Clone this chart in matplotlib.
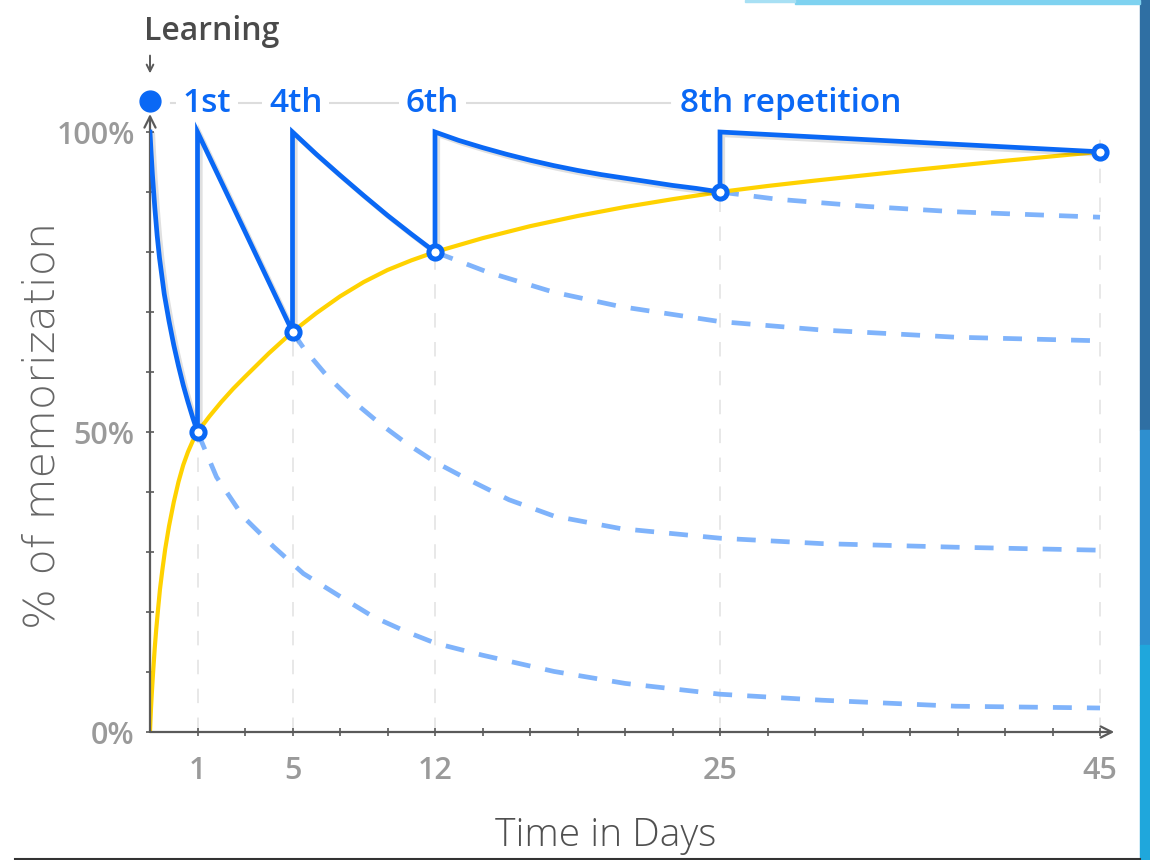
import numpy as np
import matplotlib.pyplot as plt
import matplotlib.patheffects as pe
from matplotlib.lines import Line2D
from matplotlib.patches import Rectangle

# x values are in axis steps (one step = one minor tick); day labels sit at tick_pos
tick_pos = [1, 3, 6, 12, 20]
tick_days = ['1', '5', '12', '25', '45']
rep_labels = ['1st', '4th', '6th', '8th repetition']
rep_label_x = [1.2, 3.07, 5.94, 13.5]

# memorisation after each repetition (yellow curve)
gain_x = [0, 0.01, 0.02, 0.035, 0.05, 0.07, 0.1, 0.13, 0.17, 0.21, 0.26, 0.32, 0.4, 0.5,
          0.6, 0.7, 0.8, 0.9, 1.0, 1.25, 1.5, 1.75, 2.0, 2.5, 3.0, 3.5, 4.0, 4.5, 5.0,
          5.5, 6.0, 7.0, 8.0, 9.0, 10.0, 11.0, 12.0, 13.0, 14.0, 16.0, 18.0, 20.0]
gain_y = [0, 2.0, 3.8, 6.0, 8.0, 10.5, 14.0, 17.0, 20.5, 23.8, 27.0, 30.5, 34.3, 38.3,
          41.7, 44.5, 46.7, 48.5, 50.0, 52.6, 55.0, 57.2, 59.2, 63.1, 66.7, 69.8, 72.6,
          75.0, 77.0, 78.6, 80.0, 82.3, 84.3, 86.0, 87.5, 88.8, 90.0, 91.0, 91.9, 93.6,
          95.2, 96.7]

# solid forgetting curve with repetitions
forget_x = [0, 0.02, 0.05, 0.1, 0.15, 0.2, 0.3, 0.4, 0.5, 0.6, 0.7, 0.8, 0.9, 1.0,
            1.0, 2.0, 3.0,
            3.0, 3.5, 4.0, 4.5, 5.0, 5.5, 6.0,
            6.0, 6.5, 7.0, 7.5, 8.0, 8.5, 9.0, 9.5, 10.0, 10.5, 11.0, 11.5, 12.0,
            12.0, 20.0]
forget_y = [100, 97.0, 93.0, 87.5, 82.8, 79.0, 73.0, 68.5, 64.5, 61.0, 57.8, 55.0, 52.4, 50.0,
            100, 83.4, 66.7,
            100, 96.3, 92.8, 89.4, 86.1, 83.0, 80.0,
            100, 98.6, 97.4, 96.3, 95.3, 94.4, 93.6, 92.9, 92.3, 91.7, 91.1, 90.6, 90.0,
            100, 96.7]

# what happens without the next repetition (dashed)
d1_x = [1.0, 1.4, 1.96, 2.6, 3.23, 4.0, 4.7, 5.4, 6.01, 7.0, 8.5, 10.0, 12.0, 14.14, 16.96, 20.0]
d1_y = [50.0, 42.5, 35.9, 30.9, 26.4, 22.6, 19.2, 16.7, 14.8, 12.8, 10.1, 8.1, 6.3, 5.3, 4.3, 4.0]
d2_x = [3.0, 3.25, 3.72, 4.28, 4.84, 5.4, 6.0, 6.62, 7.56, 8.5, 9.91, 12.0, 14.14, 16.96, 20.0]
d2_y = [66.7, 63.8, 59.4, 55.1, 51.4, 48.1, 45.0, 42.4, 38.7, 36.0, 33.9, 32.3, 31.4, 30.8, 30.3]
d3_x = [6.0, 7.09, 8.5, 9.91, 12.0, 14.14, 16.96, 20.0]
d3_y = [80.0, 76.7, 73.3, 70.9, 68.4, 67.0, 65.8, 65.2]
d4_x = [12.0, 13.2, 15.08, 16.96, 20.0]
d4_y = [90.0, 88.8, 87.6, 86.7, 85.8]

rep_x = [1, 3, 6, 12, 20]
rep_y = [50.0, 66.7, 80.0, 90.0, 96.7]

blue = '#0a68f5'
light_blue = '#7fb3fb'
yellow = '#ffd200'
axis_col = '#5a5a5a'
tick_col = '#9a9a9a'

fig = plt.figure(figsize=(11.5, 8.6), dpi=100)

# slide decoration around the chart
fig.add_artist(Rectangle((1140 / 1150, 0.5), 10 / 1150, 0.5, transform=fig.transFigure,
                         color='#2f6fa3', zorder=0))
fig.add_artist(Rectangle((1140 / 1150, 0.25), 10 / 1150, 0.25, transform=fig.transFigure,
                         color='#2e8fcf', zorder=0))
fig.add_artist(Rectangle((1140 / 1150, 0), 10 / 1150, 0.25, transform=fig.transFigure,
                         color='#1fa7dc', zorder=0))
fig.add_artist(Rectangle((795 / 1150, 1 - 4 / 860), 345 / 1150, 4 / 860,
                         transform=fig.transFigure, color='#7ed2f0', zorder=0))
fig.add_artist(Rectangle((745 / 1150, 1 - 2 / 860), 50 / 1150, 2 / 860,
                         transform=fig.transFigure, color='#a8e0f4', zorder=0))
fig.add_artist(Line2D([15 / 1150, 1140 / 1150], [1.5 / 860, 1.5 / 860],
                      transform=fig.transFigure, color='#333333', lw=1.5))

ax = fig.add_axes([150 / 1150, 128 / 860, 21 * 47.5 / 1150, 732 / 860])
ax.set_facecolor('none')
ax.set_xlim(0, 21)
ax.set_ylim(0, 122)

# faint vertical guides at the repetition days
for xv in rep_x:
    ax.plot([xv, xv], [0, 100], color='#e6e6e6', lw=1.3, dashes=(8, 8), zorder=1)

for dx, dy in [(d1_x, d1_y), (d2_x, d2_y), (d3_x, d3_y), (d4_x, d4_y)]:
    ax.plot(dx, dy, color=light_blue, lw=3.4, dashes=(4.0, 3.2), zorder=2)

ax.plot(gain_x, gain_y, color=yellow, lw=3.0, zorder=3, solid_capstyle='butt')
shadow = [pe.SimpleLineShadow(offset=(2, -2), shadow_color='#000000', alpha=0.12), pe.Normal()]
ax.plot(forget_x, forget_y, color=blue, lw=3.4, zorder=4, solid_joinstyle='miter',
        path_effects=shadow)
ax.plot(rep_x, rep_y, 'o', ms=9.5, mfc='white', mec=blue, mew=3.6, zorder=5)

# top row: learning dot and repetition labels
ax.plot([0.45, 10.95], [104.8, 104.8], color='#dddddd', lw=1.5, zorder=1, clip_on=False)
ax.plot([0], [105.2], 'o', ms=15, color=blue, zorder=5, clip_on=False)
for lab, lx in zip(rep_labels, rep_label_x):
    ax.text(lx, 104.8, lab, color=blue, fontsize=24, fontweight='semibold', family='Open Sans',
            ha='center', va='center', zorder=3,
            bbox=dict(boxstyle='square,pad=0.2', fc='white', ec='none'))
ax.text(1.3, 116.7, 'Learning', color='#4a4a4a', fontsize=23, fontweight='semibold',
        family='Open Sans', ha='center', va='center')
ax.annotate('', xy=(0, 109.3), xytext=(0, 113.2),
            arrowprops=dict(arrowstyle='->', color=axis_col, lw=1.4, mutation_scale=12))

# axes with arrow heads
for s in ax.spines.values():
    s.set_visible(False)
ax.annotate('', xy=(0, 103), xytext=(0, 0),
            arrowprops=dict(arrowstyle='->', color=axis_col, lw=1.6, mutation_scale=20,
                            shrinkA=0, shrinkB=0))
ax.annotate('', xy=(20.3, 0), xytext=(0, 0),
            arrowprops=dict(arrowstyle='->', color=axis_col, lw=1.6, mutation_scale=20,
                            shrinkA=0, shrinkB=0))

ax.set_xticks(range(1, 21), minor=True)
ax.set_xticks(tick_pos)
ax.set_xticklabels(tick_days)
ax.set_yticks(range(10, 101, 10), minor=True)
ax.set_yticks([0, 50, 100])
ax.set_yticklabels(['0%', '50%', '100%'])
ax.tick_params(which='both', direction='inout', length=6, width=1.2, color=axis_col)
ax.tick_params(axis='x', which='major', pad=14)
ax.tick_params(axis='y', which='major', pad=8)
for t in ax.get_xticklabels() + ax.get_yticklabels():
    t.set_color(tick_col)
    t.set_fontsize(22)
    t.set_fontweight('semibold')
    t.set_family('Open Sans')

fig.text(606 / 1150, 1 - 836 / 860, 'Time in Days', fontsize=28, color='#505050',
         family='Open Sans', fontweight='light', ha='center', va='center')
fig.text(42 / 1150, 1 - 425 / 860, '% of memorization', fontsize=31, color='#666666',
         family='DejaVu Sans', fontweight='light', ha='center', va='center', rotation=90)

fig.savefig('out.png', dpi=100)
